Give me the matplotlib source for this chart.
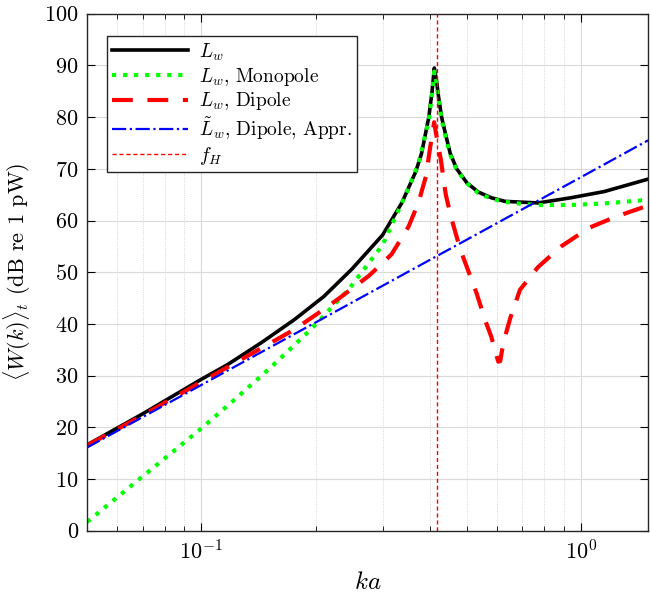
import matplotlib
matplotlib.use("Agg")
import matplotlib.pyplot as plt
import numpy as np

plt.rcParams['font.family'] = 'serif'
plt.rcParams['font.serif'] = ['cmr10', 'DejaVu Serif']
plt.rcParams['mathtext.fontset'] = 'cm'
plt.rcParams['axes.formatter.use_mathtext'] = True

# данные
ka_total = [0.05, 0.07, 0.1, 0.117, 0.144, 0.1755, 0.21, 0.249, 0.3, 0.337, 0.367, 0.38, 0.397,
            0.405, 0.4105, 0.416, 0.421, 0.429, 0.44, 0.452, 0.47, 0.5, 0.536, 0.58, 0.63,
            0.77, 0.94, 1.15, 1.5]
L_total = [16.6, 22.6, 29.3, 32.1, 36.4, 40.8, 45.3, 50.6, 57.2, 63.4, 69.5, 73.0, 80.0,
           85.0, 89.5, 87.0, 84.0, 80.0, 76.5, 73.0, 70.0, 67.3, 65.5, 64.4, 63.7,
           63.4, 64.4, 65.6, 68.0]

ka_mono = [0.05, 0.07, 0.1, 0.122, 0.142, 0.158, 0.1945, 0.245, 0.3, 0.345, 0.373, 0.397, 0.405,
           0.4105, 0.416, 0.421, 0.429, 0.44, 0.452, 0.47, 0.5, 0.536, 0.58, 0.63, 0.7, 0.77,
           0.94, 1.15, 1.5]
L_mono = [1.7, 10.5, 19.8, 25.3, 29.6, 32.7, 39.0, 46.8, 55.3, 65.0, 71.0, 79.5, 84.5,
          88.8, 86.5, 83.5, 79.5, 76.0, 72.7, 69.8, 67.2, 65.3, 64.2, 63.6, 63.2, 63.0,
          63.0, 63.3, 64.0]

ka_dip = [0.05, 0.07, 0.1, 0.13, 0.1755, 0.206, 0.23, 0.276, 0.3, 0.317, 0.351, 0.373, 0.39,
          0.40, 0.41, 0.42, 0.427, 0.44, 0.455, 0.48, 0.5, 0.53, 0.56, 0.58, 0.595, 0.605,
          0.612, 0.624, 0.651, 0.69, 0.77, 0.886, 1.05, 1.23, 1.5]
L_dip = [16.5, 22.3, 28.8, 33.5, 38.9, 42.4, 44.9, 49.3, 51.8, 53.5, 58.8, 63.5, 68.5,
         74.0, 79.0, 74.5, 71.8, 65.0, 60.5, 54.5, 51.0, 46.0, 40.5, 37.5, 34.5, 32.7,
         32.8, 36.4, 41.2, 46.6, 51.0, 55.0, 58.6, 60.7, 62.9]

ka_appr = [0.05, 0.1, 1.0, 1.5]
L_appr = [16.1, 28.2, 68.4, 75.5]

ka_H = 0.416

fig = plt.figure(figsize=(6.5, 5.95), dpi=100)
ax = fig.add_axes([0.134, 0.108, 0.863, 0.869])

ax.plot(ka_total, L_total, '-', color='k', lw=2.6, label=r'$L_w$')
ax.plot(ka_mono, L_mono, ':', color=(0, 1, 0), lw=3, label=r'$L_w$, Monopole')
ax.plot(ka_dip, L_dip, '--', color=(1, 0, 0), lw=3, dashes=(5, 3.5), label=r'$L_w$, Dipole')
ax.plot(ka_appr, L_appr, '-.', color=(0, 0, 1), lw=1.6, label=r'$\tilde{L}_w$, Dipole, Appr.')
ax.axvline(ka_H, color=(1, 0, 0), lw=1, ls='--', dashes=(3, 2), label=r'$f_H$')

ax.set_xscale('log')
ax.set_xlim(0.05, 1.5)
ax.set_ylim(0, 100)
ax.set_yticks(np.arange(0, 101, 10))

ax.grid(True, which='major', axis='both', color='#d9d9d9', lw=0.8, ls='-')
ax.grid(True, which='minor', axis='x', color='#c8c8c8', lw=0.6, ls=':')
ax.set_axisbelow(True)

ax.tick_params(which='both', direction='in', top=True, right=True, labelsize=16, pad=6)
ax.tick_params(which='major', length=6)
ax.tick_params(which='minor', length=3.5)
for s in ax.spines.values():
    s.set_linewidth(1.0)
    s.set_color('#262626')

ax.set_xlabel(r'$ka$', fontsize=18, labelpad=6)
ax.set_ylabel(r'$\langle W(k)\rangle_t$ (dB re 1 pW)', fontsize=16, labelpad=8)

leg = ax.legend(loc='upper left', bbox_to_anchor=(0.036, 0.956), borderaxespad=0, fontsize=14,
                handlelength=3.9, handletextpad=0.55, labelspacing=0.15, borderpad=0.25,
                fancybox=False, framealpha=1)
leg.get_frame().set_edgecolor('#262626')
leg.get_frame().set_linewidth(1.0)

fig.savefig('out.png', dpi=100)
